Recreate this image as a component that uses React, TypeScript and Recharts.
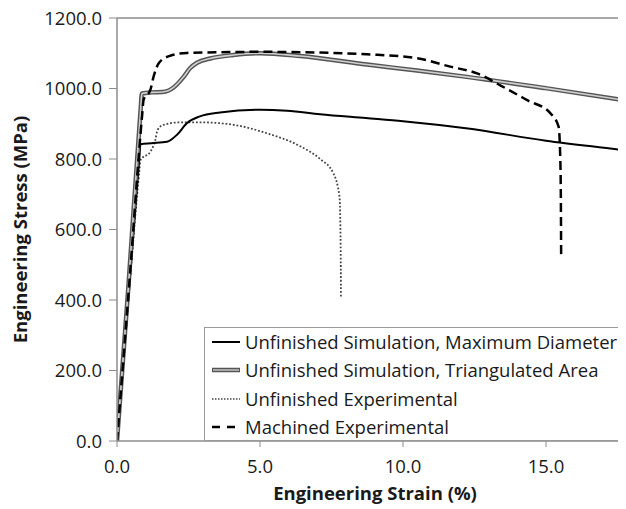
import { LineChart, Line, XAxis, YAxis, Legend, ReferenceLine, Label } from 'recharts';

const FONT = '"Open Sans", sans-serif';

// values (strain in %, stress in MPa)
const maxDiaStrain = [0, 0.4, 0.78, 0.82, 1.2, 1.75, 2.1, 2.45, 2.9, 3.6, 5.0, 5.95, 7.1, 8.7, 10.0, 12.2, 15.0, 17.8, 20.0];
const maxDiaStress = [0, 410, 800, 842, 845, 849, 869, 902, 921, 932, 940, 937, 927, 916, 907, 887, 852, 824, 800];

const triStrain = [0, 0.4, 0.83, 0.87, 1.2, 1.6, 1.98, 2.33, 2.56, 2.8, 3.26, 4.07, 5.0, 6.41, 8.74, 10.49, 12.23, 14.98, 17.8, 20.0];
const triStress = [0, 440, 945, 986, 989, 990, 1003, 1033, 1058, 1073, 1085, 1095, 1100, 1092, 1068, 1051, 1033, 1001, 966, 938];

const unfExpStrain = [0, 0.4, 0.78, 0.82, 1.17, 1.34, 1.42, 1.63, 2.21, 2.91, 4.07, 5.24, 6.41, 7.1, 7.56, 7.78, 7.82, 7.83];
const unfExpStress = [0, 400, 765, 797, 821, 854, 883, 897, 904, 904, 897, 873, 836, 800, 760, 693, 550, 405];

const machExpStrain = [0, 0.45, 0.88, 0.93, 1.17, 1.28, 1.47, 1.86, 2.45, 5.0, 7.1, 8.74, 10.49, 11.65, 12.59, 13.4, 14.34, 15.15, 15.44, 15.5, 15.52, 15.53];
const machExpStress = [0, 470, 925, 968, 997, 1034, 1073, 1093, 1101, 1104, 1102, 1097, 1086, 1062, 1043, 1009, 967, 930, 892, 800, 680, 520];

const xTicks = [0, 5, 10, 15];
const yTicks = [0, 200, 400, 600, 800, 1000, 1200];

const legendNames = [
  'Unfinished Simulation, Maximum Diameter',
  'Unfinished Simulation, Triangulated Area',
  'Unfinished Experimental',
  'Machined Experimental',
];

const zip = (strain: number[], stress: number[]) =>
  strain.map((x, i) => ({ strain: x, stress: stress[i] }));

const maxDia = zip(maxDiaStrain, maxDiaStress);
const tri = zip(triStrain, triStress);
const unfExp = zip(unfExpStrain, unfExpStress);
const machExp = zip(machExpStrain, machExpStress);

const sample = (i: number) => {
  if (i === 0) return <line x1={0} y1={6} x2={28} y2={6} stroke="#000" strokeWidth={2} />;
  if (i === 1)
    return (
      <g>
        <line x1={0} y1={6} x2={28} y2={6} stroke="#555" strokeWidth={4.5} strokeLinecap="round" />
        <line x1={1} y1={6} x2={27} y2={6} stroke="#bdbdbd" strokeWidth={1.6} />
      </g>
    );
  if (i === 2) return <line x1={0} y1={6} x2={28} y2={6} stroke="#444" strokeWidth={1.6} strokeDasharray="1.5 1.5" />;
  return <line x1={0} y1={6} x2={28} y2={6} stroke="#000" strokeWidth={2.5} strokeDasharray="8 7" />;
};

const renderLegend = () => (
  <div
    style={{
      border: '1px solid #9a9a9a',
      background: '#fff',
      width: 500,
      height: 114,
      boxSizing: 'border-box',
      fontFamily: FONT,
      fontSize: 18.5,
      color: '#1a1a1a',
    }}
  >
    {legendNames.map((name, i) => (
      <div key={name} style={{ height: 28.25, display: 'flex', alignItems: 'center', paddingLeft: 7 }}>
        <svg width={28} height={12}>{sample(i)}</svg>
        <span style={{ marginLeft: 5, whiteSpace: 'nowrap', lineHeight: '28px' }}>{name}</span>
      </div>
    ))}
  </div>
);

const tickStyle = { fill: '#1a1a1a', fontSize: 18.5, fontFamily: FONT };
const titleStyle = { textAnchor: 'middle' as const, fontWeight: 700, fontSize: 18.5, fill: '#1a1a1a', fontFamily: FONT };

export default function App() {
  return (
    <div style={{ width: 626, height: 509, overflow: 'hidden', margin: '-8px 0 0 -8px' }}>
      <LineChart width={708} height={509} margin={{ top: 18, right: 19, bottom: 8, left: 0 }}>
        <XAxis
          type="number"
          dataKey="strain"
          domain={[0, 20]}
          ticks={xTicks}
          allowDataOverflow
          height={60}
          tickSize={6}
          tickMargin={13}
          tick={tickStyle}
          tickFormatter={(v) => v.toFixed(1)}
          axisLine={{ stroke: '#8c8c8c', strokeWidth: 1.5 }}
          tickLine={{ stroke: '#8c8c8c' }}
        >
          <Label value="Engineering Strain (%)" position="insideBottom" offset={1} dx={-28} style={titleStyle} />
        </XAxis>
        <YAxis
          type="number"
          dataKey="stress"
          domain={[0, 1200]}
          ticks={yTicks}
          allowDataOverflow
          width={117}
          tickSize={8}
          tickMargin={7}
          tick={tickStyle}
          tickFormatter={(v) => v.toFixed(1)}
          axisLine={{ stroke: '#8c8c8c', strokeWidth: 1.5 }}
          tickLine={{ stroke: '#8c8c8c' }}
        >
          <Label value="Engineering Stress (MPa)" angle={-90} position="insideLeft" offset={20} style={titleStyle} />
        </YAxis>
        <ReferenceLine y={1200} stroke="#8c8c8c" strokeWidth={1.5} />
        <Legend
          layout="horizontal"
          verticalAlign="middle"
          align="center"
          content={renderLegend}
          wrapperStyle={{ left: 204, top: 327, width: 500 }}
        />
        <Line data={unfExp} dataKey="stress" type="monotone" stroke="#444" strokeWidth={1.8} strokeDasharray="1.8 1.9" dot={false} isAnimationActive={false} />
        <Line data={maxDia} dataKey="stress" type="monotone" stroke="#000" strokeWidth={2} dot={false} isAnimationActive={false} />
        <Line data={tri} dataKey="stress" type="monotone" stroke="#555" strokeWidth={4.5} dot={false} isAnimationActive={false} />
        <Line data={tri} dataKey="stress" type="monotone" stroke="#cfcfcf" strokeWidth={1.6} dot={false} isAnimationActive={false} />
        <Line data={machExp} dataKey="stress" type="monotone" stroke="#000" strokeWidth={2.5} strokeDasharray="9 5" dot={false} isAnimationActive={false} />
      </LineChart>
    </div>
  );
}
